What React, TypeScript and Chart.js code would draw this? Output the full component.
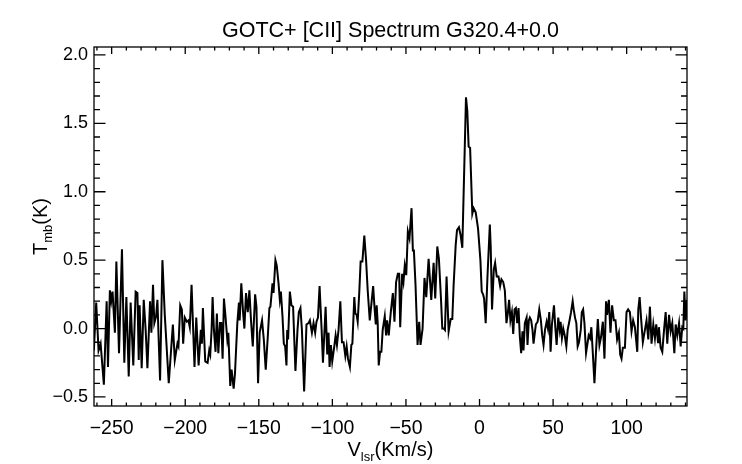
import React, { useEffect, useRef } from "react";
import { Chart, registerables } from "chart.js";

Chart.register(...registerables);

const TITLE = "GOTC+ [CII] Spectrum G320.4+0.0";
const X_RANGE = [-262, 141];
const Y_RANGE = [-0.566, 2.058];
const X_TICKS = [-250, -200, -150, -100, -50, 0, 50, 100];
const Y_TICKS = [-0.5, 0.0, 0.5, 1.0, 1.5, 2.0];

const velocity = [
  -262.1, -260.5, -258.9, -257.5, -255.3, -253.4, -252.5, -251.2, -250.3, -249.4,
  -247.8, -246.8, -245.0, -243.0, -241.4, -240.0, -238.4, -237.1, -235.3, -233.7,
  -232.5, -231.6, -231.0, -229.6, -228.2, -226.9, -225.7, -223.9, -223.0, -221.9,
  -221.0, -219.8, -218.9, -218.2, -217.1, -215.5, -213.9, -213.2, -211.2, -208.4,
  -207.1, -205.3, -204.6, -203.4, -202.3, -201.4, -200.3, -198.9, -197.8, -196.9,
  -195.7,
  -193.7, -192.5, -190.9, -189.4, -188.7, -188.0, -186.4, -184.8, -183.7, -183.0,
  -182.1, -181.4, -180.5, -179.4, -178.5, -177.5, -176.4, -175.5, -174.6, -173.7,
  -172.8, -171.4, -170.7, -169.4, -168.5, -167.1, -166.2, -164.6, -163.5, -163.0,
  -161.9, -160.7, -159.8, -158.7, -157.5, -156.4, -155.3, -154.1, -152.5, -151.6,
  -150.5, -149.4, -147.8, -146.6, -145.3, -143.9, -142.8, -142.1, -140.7, -140.0,
  -138.7, -137.8, -136.6, -135.7, -135.0, -133.9, -133.0, -132.1, -131.2, -130.7,
  -130.1, -128.9,
  -127.8, -126.7, -125.1, -123.7, -122.8, -121.7, -120.7, -119.2, -117.6, -116.2,
  -115.3, -113.9, -112.8, -111.7, -110.8, -109.8, -108.7, -107.3, -106.4, -104.6,
  -103.5, -102.6, -101.9, -101.0, -100.1, -98.7, -97.8, -96.9, -95.8, -94.6,
  -93.5, -92.4, -91.2, -90.3, -89.4, -88.1, -87.1, -86.4, -85.1, -84.4,
  -83.5, -82.8, -81.7, -80.8, -79.6, -78.3, -77.1, -76.0, -74.6, -73.3,
  -72.3, -71.4, -70.5, -69.9, -69.2, -68.5, -67.6, -66.7, -65.8, -64.4,
  -63.5,
  -62.8, -61.7, -60.3, -58.9, -57.8, -56.7, -55.5, -54.6, -53.9, -52.6,
  -51.7, -50.8, -49.8, -48.7, -47.6, -46.2, -45.3, -44.6, -43.5, -42.1,
  -41.0, -40.1, -38.7, -37.4, -36.2, -34.6, -32.8, -31.2, -30.1, -28.7,
  -27.6, -26.2, -25.3, -24.2, -23.5, -22.4, -21.0, -19.6, -18.5, -17.6,
  -16.2, -15.3, -14.0, -12.8, -11.7, -9.2, -8.3, -7.4, -6.4, -4.9,
  -4.0, -2.6, -1.0, 0.6, 1.5, 2.4, 3.1, 4.2,
  5.4, 7.0, 7.6, 8.5, 9.7, 10.6, 11.7, 12.9, 14.0, 14.9,
  16.1, 17.2, 18.3, 19.2, 20.1, 21.0, 22.0, 22.9, 23.8, 24.7,
  25.6, 26.5, 27.4, 28.3, 29.2, 29.9, 30.8, 32.0, 32.6, 33.5,
  34.2, 35.1, 36.0, 36.7, 37.6, 38.3, 39.5, 40.6, 41.7, 42.6,
  43.5, 44.5, 45.6, 46.5, 47.4, 48.3, 49.2, 50.6, 51.5, 52.4,
  53.5, 54.5, 55.1, 56.0, 56.9, 57.9, 59.0, 59.9, 61.0, 62.2,
  63.3, 64.0, 64.9, 65.8, 66.7, 67.6, 68.8, 69.5, 70.4, 71.3,
  72.4,
  74.2, 75.1, 76.0, 77.0, 78.1, 79.2, 80.4, 81.5, 82.6, 83.8,
  84.9, 86.0, 86.7, 87.9, 89.0, 90.1, 91.3, 92.4, 93.5, 94.7,
  95.6, 96.5, 97.4, 98.8, 99.9, 101.0, 102.2, 103.3, 104.4, 105.6,
  107.2, 107.9, 108.8, 109.9, 111.0, 112.4, 113.5, 114.7, 115.8, 116.9,
  118.1, 119.2, 120.1, 121.3, 121.9, 123.1, 124.2, 125.4, 126.5, 127.6,
  128.8, 129.9, 131.0, 132.4, 133.3, 134.4, 135.6, 136.7, 137.8, 138.5,
  139.2, 140.1, 141.0,
];

const tmb = [
  -0.16, 0.19, -0.16, -0.11, -0.41, 0.20, -0.28, 0.28, 0.20, 0.27,
  -0.03, 0.49, -0.18, 0.58, -0.25, 0.23, -0.35, 0.19, -0.27, 0.27,
  0.26, -0.23, 0.17, -0.29, 0.21, -0.01, -0.29, 0.20, -0.03, 0.32,
  0.04, 0.09, 0.21, -0.03, -0.38, 0.50, 0.10, -0.03, -0.40, 0.03,
  -0.23, -0.11, -0.13, 0.17, 0.14, -0.11, 0.08, 0.05, 0.06, 0.01,
  0.32,
  -0.28, 0.08, -0.27, -0.01, -0.11, 0.15, -0.24, -0.25, -0.16, -0.19,
  -0.01, 0.23, -0.01, -0.17, 0.11, -0.18, 0.04, 0.04, -0.22, 0.22,
  0.11, -0.08, -0.03, -0.42, -0.30, -0.44, -0.33, 0.04, 0.19, 0.06,
  0.33, 0.12, 0.00, 0.26, 0.12, 0.28, 0.06, -0.13, 0.25, 0.16,
  -0.40, -0.03, 0.06, -0.08, -0.30, -0.06, 0.15, 0.16, 0.33, 0.26,
  0.50, 0.46, 0.33, 0.21, 0.27, 0.09, -0.11, -0.13, -0.27, -0.01,
  -0.08, 0.27,
  0.17, 0.16, -0.31, -0.01, 0.12, 0.15, -0.01, -0.46, 0.03, 0.04,
  0.06, -0.03, 0.04, -0.03, 0.05, 0.08, 0.31, -0.01, -0.25, 0.16,
  -0.19, -0.03, -0.28, -0.12, -0.24, -0.13, -0.05, -0.12, -0.01, 0.20,
  -0.10, -0.10, -0.20, -0.13, -0.22, -0.28, -0.12, -0.11, 0.23, 0.11,
  0.10, 0.05, 0.27, 0.49, 0.49, 0.68, 0.50, 0.28, 0.06, 0.20,
  0.31, 0.16, 0.03, 0.17, 0.04, -0.27, -0.17, -0.17, -0.01, 0.09,
  -0.05,
  0.06, -0.05, 0.12, 0.26, 0.05, 0.34, 0.40, 0.40, 0.01, 0.40,
  0.34, 0.46, 0.39, 0.71, 0.66, 0.88, 0.57, 0.57, 0.32, -0.12,
  0.05, -0.12, 0.00, 0.37, 0.23, 0.51, 0.21, 0.48, 0.22, 0.60,
  0.51, 0.22, 0.00, 0.00, -0.01, 0.38, -0.02, 0.07, 0.07, 0.32,
  0.61, 0.72, 0.74, 0.68, 0.59, 1.69, 1.59, 1.33, 1.32, 0.84,
  0.88, 0.85, 0.73, 0.50, 0.27, 0.25, 0.22, 0.04,
  0.38, 0.76, 0.60, 0.14, 0.43, 0.48, 0.38, 0.38, 0.31, 0.36,
  0.34, 0.28, 0.04, 0.11, 0.21, 0.06, 0.12, -0.04, 0.14, 0.15,
  0.04, 0.15, -0.06, -0.18, -0.02, -0.16, 0.04, 0.08, -0.12, 0.06,
  0.08, 0.06, -0.01, -0.11, -0.03, 0.03, 0.05, 0.14, 0.06, -0.05,
  -0.12, -0.01, 0.05, 0.00, 0.12, -0.17, 0.03, 0.17, 0.01, -0.12,
  0.08, -0.01, 0.05, -0.07, 0.00, -0.05, -0.13, -0.01, 0.05, 0.12,
  0.20, 0.14, 0.08, 0.04, -0.13, -0.10, -0.01, 0.12, 0.14, 0.04,
  -0.18,
  -0.05, -0.07, 0.01, -0.18, -0.40, -0.16, 0.07, -0.12, -0.06, 0.05,
  -0.22, 0.20, 0.10, 0.21, -0.03, 0.17, 0.06, 0.06, -0.08, -0.03,
  -0.19, -0.22, -0.14, -0.14, 0.12, 0.14, 0.12, -0.02, 0.06, 0.01,
  -0.17, 0.14, 0.23, 0.06, -0.10, -0.01, 0.06, -0.08, 0.16, -0.11,
  0.03, -0.07, 0.03, -0.10, 0.01, -0.14, -0.17, -0.01, 0.12, -0.11,
  0.10, -0.02, 0.04, -0.18, 0.03, -0.05, 0.04, -0.13, 0.01, 0.00,
  0.27, 0.06, 0.21,
];

const FONT = "'Liberation Sans', Arial, Helvetica, sans-serif";
const minus = (s: string) => s.replace("-", "\u2212");

const frameAndText = {
  id: "frameAndText",
  afterDraw(chart: any) {
    const { ctx, chartArea: a, scales } = chart;
    const x = scales.x;
    const y = scales.y;
    ctx.save();
    ctx.strokeStyle = "#000";
    ctx.lineWidth = 1.3;
    ctx.strokeRect(a.left, a.top, a.right - a.left, a.bottom - a.top);
    ctx.beginPath();
    for (let v = -260; v <= 140; v += 10) {
      const px = x.getPixelForValue(v);
      if (px <= a.left || px >= a.right) continue;
      const len = v % 50 === 0 ? 7 : 3.5;
      ctx.moveTo(px, a.bottom);
      ctx.lineTo(px, a.bottom - len);
      ctx.moveTo(px, a.top);
      ctx.lineTo(px, a.top + len);
    }
    for (let i = -5; i <= 20; i++) {
      const py = y.getPixelForValue(i / 10);
      if (py <= a.top || py >= a.bottom) continue;
      const len = i % 5 === 0 ? 11.5 : 6;
      ctx.moveTo(a.left, py);
      ctx.lineTo(a.left + len, py);
      ctx.moveTo(a.right, py);
      ctx.lineTo(a.right - len, py);
    }
    ctx.stroke();

    ctx.fillStyle = "#000";
    ctx.font = `21.5px ${FONT}`;
    ctx.textAlign = "center";
    ctx.textBaseline = "alphabetic";
    ctx.fillText(TITLE, (a.left + a.right) / 2, 37);

    const drawSub = (main: string, sub: string, rest: string, cx: number, base: number) => {
      ctx.textAlign = "left";
      ctx.font = `20px ${FONT}`;
      const w1 = ctx.measureText(main).width;
      const w3 = ctx.measureText(rest).width;
      ctx.font = `13px ${FONT}`;
      const w2 = ctx.measureText(sub).width;
      let sx = cx - (w1 + w2 + w3) / 2;
      ctx.font = `20px ${FONT}`;
      ctx.fillText(main, sx, base);
      sx += w1;
      ctx.font = `13px ${FONT}`;
      ctx.fillText(sub, sx, base + 5);
      sx += w2;
      ctx.font = `20px ${FONT}`;
      ctx.fillText(rest, sx, base);
    };
    drawSub("V", "lsr", "(Km/s)", (a.left + a.right) / 2, 456);

    ctx.save();
    ctx.translate(47, (a.top + a.bottom) / 2);
    ctx.rotate(-Math.PI / 2);
    drawSub("T", "mb", "(K)", 0, 0);
    ctx.restore();
    ctx.restore();
  },
};

export default function App() {
  const ref = useRef<HTMLCanvasElement | null>(null);
  useEffect(() => {
    if (!ref.current) return;
    const points = velocity.map((v, i) => ({ x: v, y: tmb[i] }));
    const chart = new Chart(ref.current, {
      type: "line",
      data: {
        datasets: [
          {
            data: points,
            borderColor: "#000",
            borderWidth: 2,
            pointRadius: 0,
            tension: 0,
            fill: false,
          },
        ],
      },
      options: {
        responsive: false,
        animation: false,
        devicePixelRatio: 1,
        layout: { padding: { top: 47, right: 55, left: 0, bottom: 0 } },
        plugins: { legend: { display: false }, tooltip: { enabled: false }, title: { display: false } },
        scales: {
          x: {
            type: "linear",
            min: X_RANGE[0],
            max: X_RANGE[1],
            grid: { display: false, drawTicks: false },
            border: { display: false },
            afterBuildTicks: (s: any) => {
              s.ticks = X_TICKS.map((v) => ({ value: v }));
            },
            afterFit: (s: any) => {
              s.height = 58;
            },
            ticks: {
              padding: 11,
              color: "#000",
              font: { family: FONT, size: 19.5 },
              maxRotation: 0,
              autoSkip: false,
              callback: (v: any) => minus(String(v)),
            },
          },
          y: {
            type: "linear",
            min: Y_RANGE[0],
            max: Y_RANGE[1],
            grid: { display: false, drawTicks: false },
            border: { display: false },
            afterBuildTicks: (s: any) => {
              s.ticks = Y_TICKS.map((v) => ({ value: v }));
            },
            afterFit: (s: any) => {
              s.width = 94;
            },
            ticks: {
              padding: 6,
              color: "#000",
              font: { family: FONT, size: 18 },
              autoSkip: false,
              callback: (v: any) => minus(Number(v).toFixed(1)),
            },
          },
        },
      },
      plugins: [frameAndText],
    });
    return () => chart.destroy();
  }, []);
  return (
    <div style={{ position: "absolute", left: 0, top: 0, width: 742, height: 464, background: "#fff" }}>
      <canvas ref={ref} width={742} height={464} />
    </div>
  );
}
